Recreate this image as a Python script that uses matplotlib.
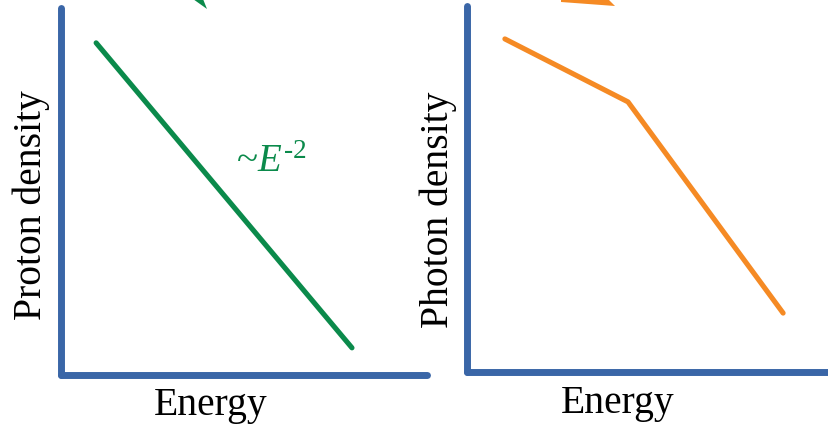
import matplotlib
matplotlib.use("Agg")
import matplotlib.pyplot as plt
from matplotlib.patches import Polygon

# ---- data (normalised axis units) ----
proton_energy = [0.096, 0.795]
proton_density = [0.905, 0.074]
photon_energy = [0.103, 0.4375, 0.859]
photon_density = [0.91, 0.738, 0.161]

xlabel = "Energy"
ylabel_left = "Proton density"
ylabel_right = "Photon density"
slope_label = "~$E^{\\text{-2}}$"

BLUE = "#3A66A7"
GREEN = "#0B8A4B"
ORANGE = "#F58A24"

plt.rcParams["font.family"] = ["Liberation Serif", "DejaVu Serif"]
plt.rcParams["mathtext.fontset"] = "custom"
plt.rcParams["mathtext.rm"] = "Liberation Serif"
plt.rcParams["mathtext.it"] = "Liberation Serif:italic"

W, H = 829, 426
fig = plt.figure(figsize=(W / 100, H / 100), dpi=100)


def ax_rect(x0, y0_top, x1, y1_top):
    return [x0 / W, (H - y1_top) / H, (x1 - x0) / W, (y1_top - y0_top) / H]


ax1 = fig.add_axes(ax_rect(61, 8, 427, 375))
ax2 = fig.add_axes(ax_rect(467, 6, 835, 372))

for ax in (ax1, ax2):
    ax.set_xlim(0, 1)
    ax.set_ylim(0, 1)
    ax.set_xticks([])
    ax.set_yticks([])
    ax.patch.set_alpha(0)
    for s in ("top", "right"):
        ax.spines[s].set_visible(False)
    for s in ("left", "bottom"):
        ax.spines[s].set_color(BLUE)
        ax.spines[s].set_linewidth(5.0)
        ax.spines[s].set_capstyle("round")

ax1.plot(proton_energy, proton_density, color=GREEN, lw=3.7,
         solid_capstyle="round", clip_on=False)
ax2.plot(photon_energy, photon_density, color=ORANGE, lw=3.7,
         solid_capstyle="round", solid_joinstyle="round", clip_on=False)

FS = 28.5


def fx(px):
    return px / W


def fy(py):
    return (H - py) / H


fig.text(fx(211), fy(405), xlabel, fontsize=FS, ha="center", va="center")
fig.text(fx(618), fy(403), xlabel, fontsize=FS, ha="center", va="center")
fig.text(fx(31), fy(205), ylabel_left, fontsize=FS, ha="center", va="center",
         rotation=90)
fig.text(fx(438), fy(210), ylabel_right, fontsize=FS, ha="center", va="center",
         rotation=90)
fig.text(fx(271), fy(162), slope_label, fontsize=28, color=GREEN,
         ha="center", va="center")

# partial arrow heads cut off at the top edge
green_tip = [(193, -1), (203, -1), (207, 9)]
orange_tip = [(561, -1), (608, -1), (615, 6), (561, 2)]
for pts, c in ((green_tip, GREEN), (orange_tip, ORANGE)):
    fig.patches.append(Polygon([(fx(x), fy(y)) for x, y in pts], closed=True,
                               transform=fig.transFigure, facecolor=c,
                               edgecolor="none"))

fig.savefig("out.png", dpi=100)
